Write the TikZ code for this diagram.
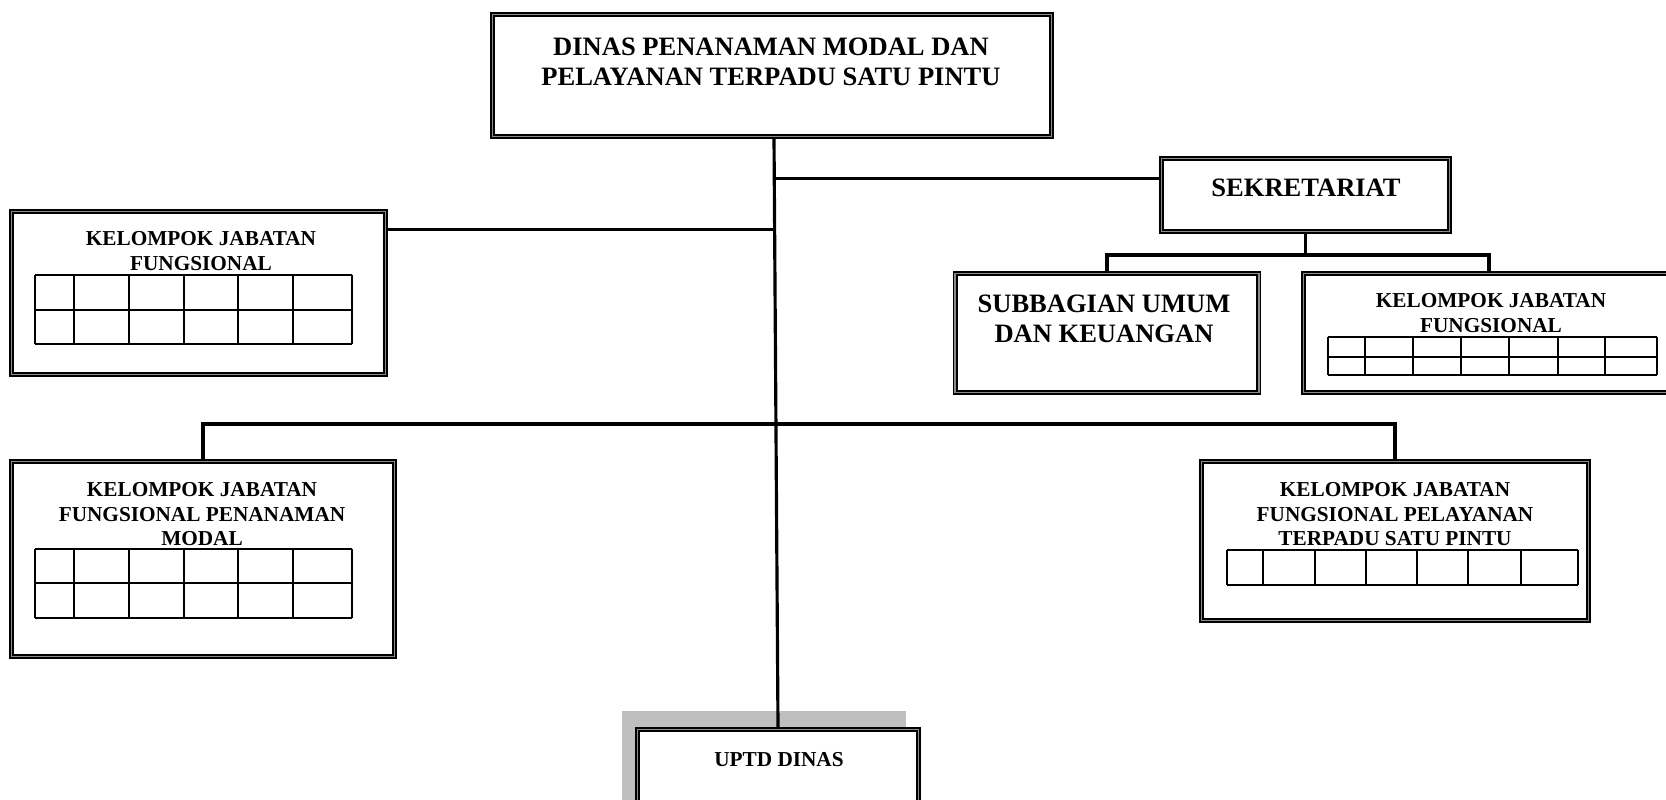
\documentclass[tikz,border=0pt]{standalone}
\usepackage{fontspec}
\setmainfont{Liberation Serif}
\usepackage{tikz}

\tikzset{
  unit/.style={draw, line width=1.1pt, fill=white, shape=rectangle},
  inner/.style={line width=0.45pt},
  link/.style={line width=0.9pt},
  cell/.style={line width=0.6pt},
  bigtext/.style={font=\fontsize{7.55}{8.7}\selectfont\bfseries, align=center, inner sep=0pt, anchor=north},
  smalltext/.style={font=\fontsize{6.05}{7}\selectfont\bfseries, align=center, inner sep=0pt, anchor=north}
}

\begin{document}
\begin{tikzpicture}
        \useasboundingbox (0,0) rectangle (16.66,8);
        % boxes
        \node[unit, minimum width=5.6cm, minimum height=1.23cm] (dinas) at (7.72, 7.245) {};
        \node[unit, minimum width=2.89cm, minimum height=0.74cm] (sek) at (13.055, 6.05) {};
        \node[unit, minimum width=3.05cm, minimum height=1.2cm] (subbag) at (11.07, 4.67) {};
        \node[unit, minimum width=3.72cm, minimum height=1.2cm] (kjf2) at (14.89, 4.67) {};
        \node[unit, minimum width=3.75cm, minimum height=1.64cm] (kjf1) at (1.985, 5.07) {};
        \node[unit, minimum width=3.84cm, minimum height=1.96cm] (kjfpm) at (2.03, 2.41) {};
        \node[unit, minimum width=3.88cm, minimum height=1.6cm] (kjfptsp) at (13.95, 2.59) {};
        \fill[black!25] (6.22, 0.89) rectangle (9.06, -0.1);
        \node[unit, minimum width=2.82cm, minimum height=0.81cm] (uptd) at (7.78, 0.305) {};
        \foreach \n in {dinas, sek, subbag, kjf2, kjf1, kjfpm, kjfptsp, uptd} {
            \draw[inner, black!45] ([shift={(0.025,-0.025)}]\n.north west) rectangle ([shift={(-0.025,0.025)}]\n.south east);
            \draw[inner] ([shift={(0.045,-0.045)}]\n.north west) rectangle ([shift={(-0.045,0.045)}]\n.south east);
        }

        % texts
        \node[bigtext] (dinas-t) at (7.71, 7.63) {DINAS PENANAMAN MODAL DAN\\PELAYANAN TERPADU SATU PINTU};
        \node[bigtext] (sek-t) at (13.06, 6.22) {SEKRETARIAT};
        \node[bigtext] (subbag-t) at (11.04, 5.06) {SUBBAGIAN UMUM\\DAN KEUANGAN};
        \node[smalltext] (kjf1-t) at (2.01, 5.69) {KELOMPOK JABATAN\\FUNGSIONAL};
        \node[smalltext] (kjf2-t) at (14.91, 5.07) {KELOMPOK JABATAN\\FUNGSIONAL};
        \node[smalltext] (kjfpm-t) at (2.02, 3.18) {KELOMPOK JABATAN\\FUNGSIONAL PENANAMAN\\MODAL};
        \node[smalltext] (kjfptsp-t) at (13.95, 3.18) {KELOMPOK JABATAN\\FUNGSIONAL PELAYANAN\\TERPADU SATU PINTU};
        \node[smalltext] (uptd-t) at (7.79, 0.48) {UPTD DINAS};

        % tables
        \foreach \x in {0.35, 0.74, 1.29, 1.84, 2.38, 2.93, 3.52} {
            \draw[cell] (\x, 5.25) -- (\x, 4.56);
            \draw[cell] (\x, 2.51) -- (\x, 1.82);
        }
        \foreach \y in {5.25, 4.9, 4.56} \draw[cell] (0.35, \y) -- (3.52, \y);
        \foreach \y in {2.51, 2.17, 1.82} \draw[cell] (0.35, \y) -- (3.52, \y);
        \foreach \x in {13.28, 13.65, 14.13, 14.61, 15.09, 15.58, 16.05, 16.57} \draw[cell] (\x, 4.63) -- (\x, 4.25);
        \foreach \y in {4.63, 4.43, 4.25} \draw[cell] (13.28, \y) -- (16.57, \y);
        \foreach \x in {12.27, 12.63, 13.15, 13.66, 14.17, 14.68, 15.21, 15.78} \draw[cell] (\x, 2.5) -- (\x, 2.15);
        \foreach \y in {2.5, 2.15} \draw[cell] (12.27, \y) -- (15.78, \y);

        % connectors
        \coordinate (j1) at (7.745, 6.215);
        \coordinate (j2) at (7.75, 5.705);
        \coordinate (sekfork) at (13.055, 5.45);
        \draw[link] ([xshift=0.02cm]dinas.south) to (uptd.north);
        \draw[link] (j1) -- (j1 -| sek.west);
        \draw[link] (j2) -- (j2 -| kjf1.east);
        \draw[link] (sek.south) -- (sekfork);
        \draw[link] (subbag.north) |- (sekfork) -| (kjf2.north);
        \draw[link] (kjfpm.north) -- ++(0, 0.35) -| (kjfptsp.north);
    \end{tikzpicture}
\end{document}
